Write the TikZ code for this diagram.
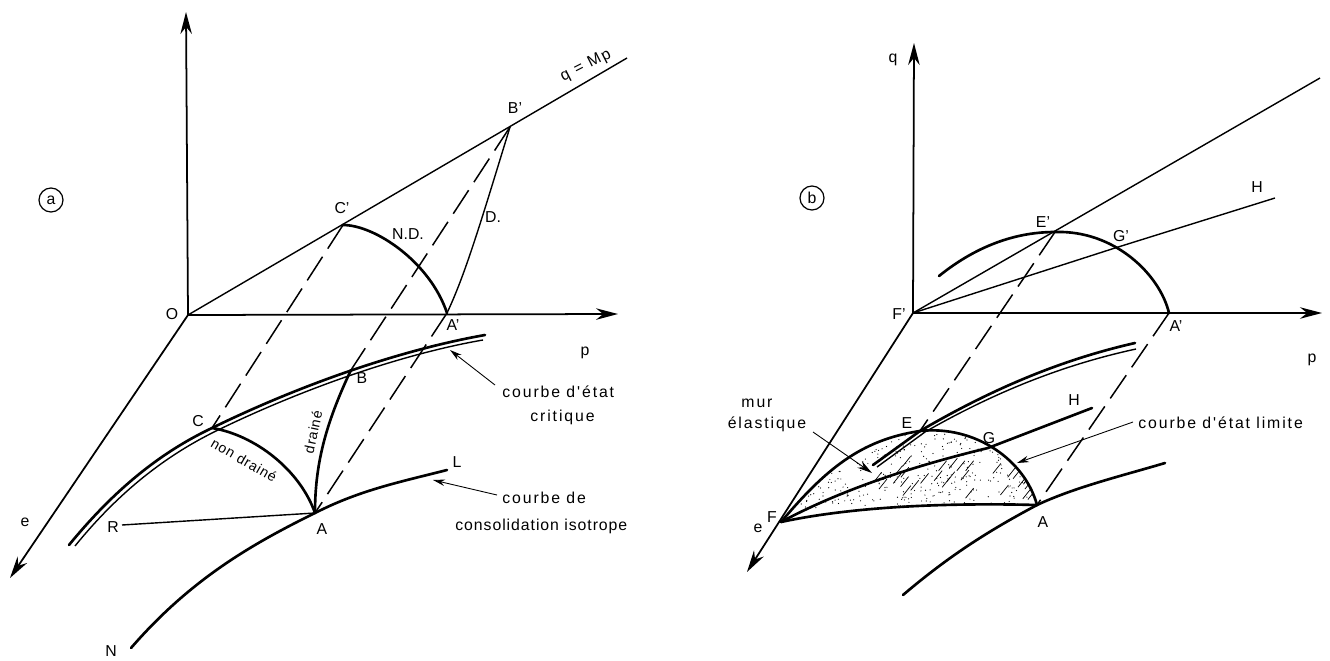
\documentclass[tikz,border=0pt]{standalone}
\usepackage{fontspec}
\setmainfont{Liberation Sans}
\newfontfamily\lettre[LetterSpace=12]{Liberation Sans}
\newfontfamily\lettrb[LetterSpace=6]{Liberation Sans}
\usetikzlibrary{arrows.meta,shapes.geometric}

\begin{document}
\begin{tikzpicture}[x=0.02cm,y=-0.02cm,>=Stealth,font=\small]
\tikzstyle{axe}=[line width=1pt,-{Stealth[length=4.4mm,width=2.3mm]}]
\tikzstyle{fin}=[line width=0.8pt]
\tikzstyle{gras}=[line width=1.5pt,line cap=round]
\tikzstyle{tirets}=[line width=0.85pt,dash pattern=on 16pt off 5.5pt]
\tikzstyle{fleche}=[line width=0.5pt,-{Stealth[length=2.4mm,width=1.3mm]}]
\tikzstyle{lab}=[inner sep=0pt]
\tikzstyle{txt}=[inner sep=0pt,font=\small\lettre]
\tikzstyle{txtb}=[inner sep=0pt,font=\small\lettrb]
\tikzstyle{rond}=[circle,draw,line width=0.7pt,minimum size=0.48cm,inner sep=0pt]
\useasboundingbox (0,0) rectangle (1330,660);
% panel a
\coordinate (O) at (188,315);
\coordinate (Oq) at (186,12);
\coordinate (Op) at (618,314);
\coordinate (Oe) at (10,578);
\coordinate (Om) at (627,58);
\coordinate (Ap) at (447,313);
\coordinate (Bp) at (510,127);
\coordinate (Cp) at (343,225);
\coordinate (A) at (315,513);
\coordinate (B) at (351,370);
\coordinate (C) at (212,428);
\coordinate (R) at (122,525);
\coordinate (N) at (131,648);
\coordinate (L) at (447,470);
\coordinate (ct) at (495,385);
\coordinate (ch) at (450,350);
\coordinate (nt) at (497,495);
\coordinate (nh) at (433,480);
\draw[axe] (O) -- (Oq);
\draw[axe] (O) -- (Op);
\draw[axe] (O) -- (Oe);
\draw[fin] (O) -- (Om);
\draw[tirets] (Cp) -- (C);
\draw[tirets] (Bp) -- (B);
\draw[tirets] (Ap) -- (A);
\draw[fin] (Bp) .. controls (480,225) and (465,275) .. (Ap);
\draw[gras] (Cp) .. controls (375,225) and (430,262) .. (Ap);
\draw[gras] (69,545) .. controls (110,495) and (155,455) .. (C) .. controls (300,385) and (400,350) .. (485,335);
\draw[fin] (75,546) .. controls (114,498) and (159,459) .. (216,431) .. controls (302,389) and (402,354) .. (483,340);
\draw[gras] (N) .. controls (190,580) and (250,545) .. (A) .. controls (360,490) and (400,482) .. (L);
\draw[fin] (R) -- (A);
\draw[gras] (C) .. controls (255,435) and (300,470) .. (A);
\draw[gras] (A) .. controls (315,465) and (325,425) .. (B);
\draw[fleche] (ct) -- (ch);
\draw[fleche] (nt) -- (nh);
\node[rond] (la) at (51,200) {a};
\node[lab] (lO) at (172,314) {O};
\node[lab] (lAp) at (453,325) {A'};
\node[lab] (lBp) at (515,108) {B'};
\node[lab] (lCp) at (342,208) {C'};
\node[lab] (lND) at (408,234) {N.D.};
\node[lab] (lD) at (493,217) {D.};
\node[txt,rotate=27] (lqm) at (586,66) {q = Mp};
\node[lab] (lp) at (585,353) {p};
\node[lab] (le) at (25,522) {e};
\node[lab] (lA) at (322,529) {A};
\node[lab] (lB) at (362,378) {B};
\node[lab] (lC) at (198,421) {C};
\node[lab] (lR) at (113,527) {R};
\node[lab] (lN) at (111,651) {N};
\node[lab] (lL) at (457,462) {L};
\node[txtb,rotate=-30,font=\footnotesize\lettrb] (lnd) at (244,460) {non drainé};
\node[txtb,rotate=78,font=\footnotesize\lettrb] (ldr) at (313,432) {drainé};
\node[txt,anchor=west] (lc1) at (502,392) {courbe d'état};
\node[txt,anchor=west] (lc2) at (530,417) {critique};
\node[txt,anchor=west] (ln1) at (502,498) {courbe de};
\node[txtb,anchor=west] (ln2) at (455,526) {consolidation isotrope};
% panel b
\coordinate (Fp) at (913,313);
\coordinate (Fq) at (914,43);
\coordinate (Fr) at (1322,313);
\coordinate (Fe) at (747,572);
\coordinate (Fm) at (1320,78);
\coordinate (Fh) at (1275,198);
\coordinate (Ep) at (1055,232);
\coordinate (Gp) at (1115,248);
\coordinate (Aq) at (1169,313);
\coordinate (E) at (920,431);
\coordinate (G) at (988,448);
\coordinate (F) at (781,522);
\coordinate (Ab) at (1037,505);
\coordinate (Hb) at (1092,408);
\begin{scope}
\clip (F) .. controls (825,470) and (860,440) .. (E) .. controls (975,425) and (1025,460) .. (Ab) .. controls (960,503) and (860,505) .. (F);
\pgfmathsetseed{4217}
\foreach \i in {1,...,420} {
  \pgfmathsetmacro{\xa}{790+rnd*245}
  \pgfmathsetmacro{\ya}{430+rnd*78}
  \fill (\xa,\ya) circle (0.6);
}
\foreach \i in {1,...,28} {
  \pgfmathsetmacro{\xa}{860+rnd*170}
  \pgfmathsetmacro{\ya}{465+rnd*35}
  \draw[line width=0.4pt] (\xa,\ya) -- ++(8,-10);
}
\end{scope}
\draw[axe] (Fp) -- (Fq);
\draw[axe] (Fp) -- (Fr);
\draw[axe] (Fp) -- (Fe);
\draw[fin] (Fp) -- (Fm);
\draw[fin] (Fp) -- (Gp) -- (Fh);
\draw[tirets] (Ep) -- (E);
\draw[tirets] (Aq) -- (Ab);
\draw[gras] (939,276) .. controls (980,243) and (1020,232) .. (Ep) .. controls (1115,230) and (1160,275) .. (Aq);
\draw[gras] (E) .. controls (990,390) and (1060,360) .. (1135,343);
\draw[fin] (925,432) .. controls (993,393) and (1062,365) .. (1136,349);
\draw[gras] (873,465) -- (E);
\draw[fin] (877,467) -- (925,432);
\draw[gras] (F) .. controls (825,470) and (860,440) .. (E) .. controls (975,425) and (1025,460) .. (Ab);
\draw[gras] (F) .. controls (860,505) and (960,503) .. (Ab);
\draw[gras] (F) .. controls (850,485) and (930,462) .. (G);
\draw[gras] (G) -- (Hb);
\draw[gras] (903,595) .. controls (950,555) and (990,530) .. (Ab) .. controls (1075,487) and (1125,475) .. (1165,463);
\coordinate (mt) at (813,432);
\coordinate (mh) at (872,473);
\coordinate (lt) at (1133,422);
\coordinate (lh) at (1017,463);
\draw[line width=0.5pt,-{Stealth[length=3mm,width=1.6mm]}] (mt) -- (mh);
\draw[fleche] (lt) -- (lh);
\node[rond] (lb) at (812,198) {b};
\node[lab] (lqb) at (893,60) {q};
\node[lab] (lFp) at (899,314) {F'};
\node[lab] (lAq) at (1176,326) {A'};
\node[lab] (lEp) at (1043,222) {E'};
\node[lab] (lGp) at (1121,236) {G'};
\node[lab] (lHp) at (1257,187) {H};
\node[lab] (lpb) at (1312,360) {p};
\node[txt] (lmu) at (757,403) {mur};
\node[txt] (lel) at (767,424) {élastique};
\node[lab] (lE) at (907,423) {E};
\node[lab] (lG) at (989,438) {G};
\node[lab] (lHb) at (1074,400) {H};
\node[lab] (lAb) at (1043,522) {A};
\node[lab] (lF) at (772,517) {F};
\node[lab] (leb) at (758,528) {e};
\node[txt,anchor=west] (ll) at (1138,423) {courbe d'état limite};
\end{tikzpicture}
\end{document}
